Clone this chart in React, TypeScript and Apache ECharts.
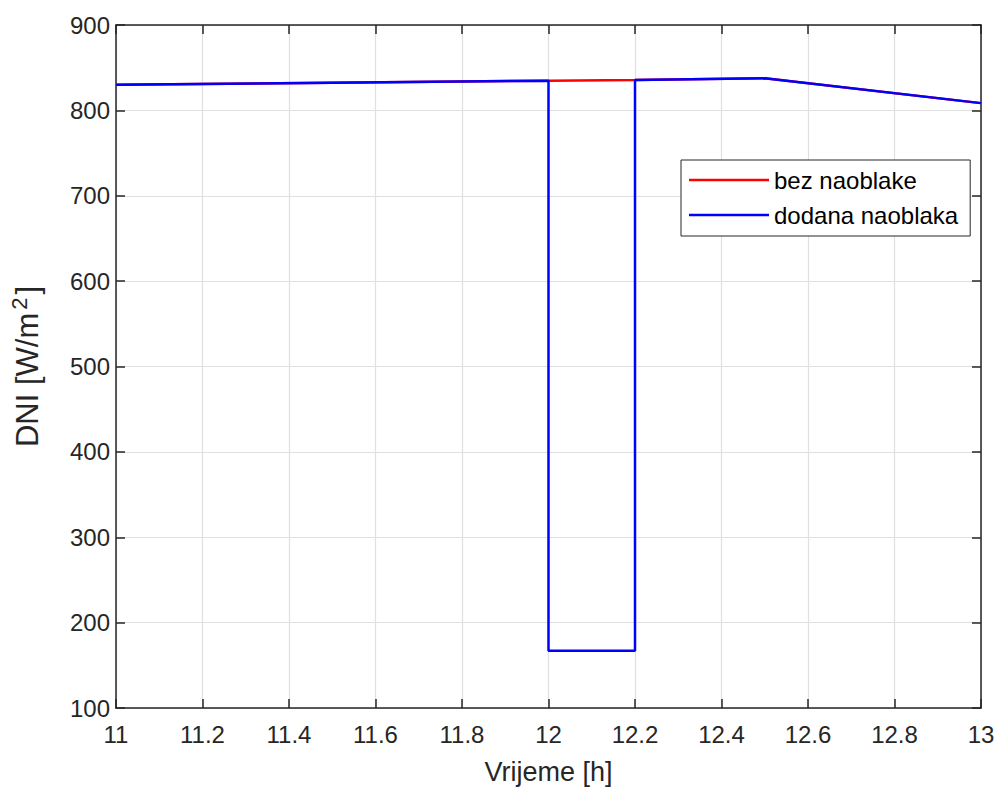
import React, { useEffect, useRef } from "react";
import * as echarts from "echarts";

const seriesNames = ["bez naoblake", "dodana naoblaka"];
const timeNoCloud = [11, 11.5, 12, 12.2, 12.5, 13];
const dniNoCloud = [830, 832.5, 834.8, 835.5, 837.5, 808.5];
const timeCloud = [11, 11.5, 12, 12, 12.2, 12.2, 12.5, 13];
const dniCloud = [830, 832.5, 834.8, 167, 167, 835.5, 837.5, 808.5];

const FONT = "Liberation Sans, Arial, Helvetica, sans-serif";
const TXT = "#262626";

export default function App() {
  const ref = useRef<HTMLDivElement>(null);
  useEffect(() => {
    if (!ref.current) return;
    const chart = echarts.init(ref.current, undefined, { renderer: "svg" });
    const axisCommon = {
      axisLine: { show: true, onZero: false, lineStyle: { color: TXT, width: 1.5 } },
      axisTick: { show: true, inside: true, length: 9, lineStyle: { color: TXT, width: 1.5 } },
      splitLine: { show: false },
    };
    chart.setOption({
      animation: false,
      backgroundColor: "#ffffff",
      textStyle: { fontFamily: FONT },
      grid: { left: 115, right: 19, top: 25, bottom: 83, containLabel: false },
      legend: {
        left: 681,
        top: 160,
        orient: "vertical",
        backgroundColor: "#fff",
        borderColor: TXT,
        borderWidth: 1,
        borderRadius: 0,
        padding: [8, 12, 9, 8],
        itemGap: 11,
        itemWidth: 80,
        itemHeight: 22,
        textStyle: { fontSize: 24, color: "#000", fontFamily: FONT },
        data: seriesNames.map((n) => ({ name: n, icon: "path://M0,10 L80,10 L80,12.5 L0,12.5 Z" })),
      },
      xAxis: [
        {
          type: "value",
          min: 11,
          max: 13,
          interval: 0.2,
          position: "bottom",
          name: "Vrijeme [h]",
          nameLocation: "middle",
          nameGap: 50,
          nameTextStyle: { fontSize: 27, color: TXT, fontFamily: FONT },
          axisLabel: { fontSize: 24, color: TXT, margin: 14, fontFamily: FONT },
          ...axisCommon,
          splitLine: { show: true, lineStyle: { color: "#e0e0e0", width: 1.2 } },
        },
        {
          type: "value",
          min: 11,
          max: 13,
          interval: 0.2,
          position: "top",
          axisLabel: { show: false },
          ...axisCommon,
        },
      ],
      yAxis: [
        {
          type: "value",
          min: 100,
          max: 900,
          interval: 100,
          position: "left",
          name: "DNI [W/m{sup|2}]",
          nameLocation: "middle",
          nameGap: 70,
          nameRotate: 90,
          nameTextStyle: {
            fontSize: 31,
            color: TXT,
            fontFamily: FONT,
            rich: { sup: { fontSize: 22, color: TXT, fontFamily: FONT, padding: [0, 3, 16, 3] } },
          },
          axisLabel: { fontSize: 24, color: TXT, margin: 6, fontFamily: FONT },
          ...axisCommon,
          splitLine: { show: true, lineStyle: { color: "#e0e0e0", width: 1.2 } },
        },
        {
          type: "value",
          min: 100,
          max: 900,
          interval: 100,
          position: "right",
          axisLabel: { show: false },
          ...axisCommon,
        },
      ],
      series: [
        {
          name: seriesNames[0],
          type: "line",
          data: timeNoCloud.map((t, i) => [t, dniNoCloud[i]]),
          showSymbol: false,
          symbol: "none",
          lineStyle: { color: "#ff0000", width: 2.5 },
          itemStyle: { color: "#ff0000" },
          z: 2,
        },
        {
          name: seriesNames[1],
          type: "line",
          data: timeCloud.map((t, i) => [t, dniCloud[i]]),
          showSymbol: false,
          symbol: "none",
          lineStyle: { color: "#0000ff", width: 2.5 },
          itemStyle: { color: "#0000ff" },
          z: 3,
        },
      ],
    });
    return () => chart.dispose();
  }, []);
  return (
    <div
      ref={ref}
      style={{ position: "fixed", left: 0, top: 0, width: 1000, height: 791, background: "#fff" }}
    />
  );
}
